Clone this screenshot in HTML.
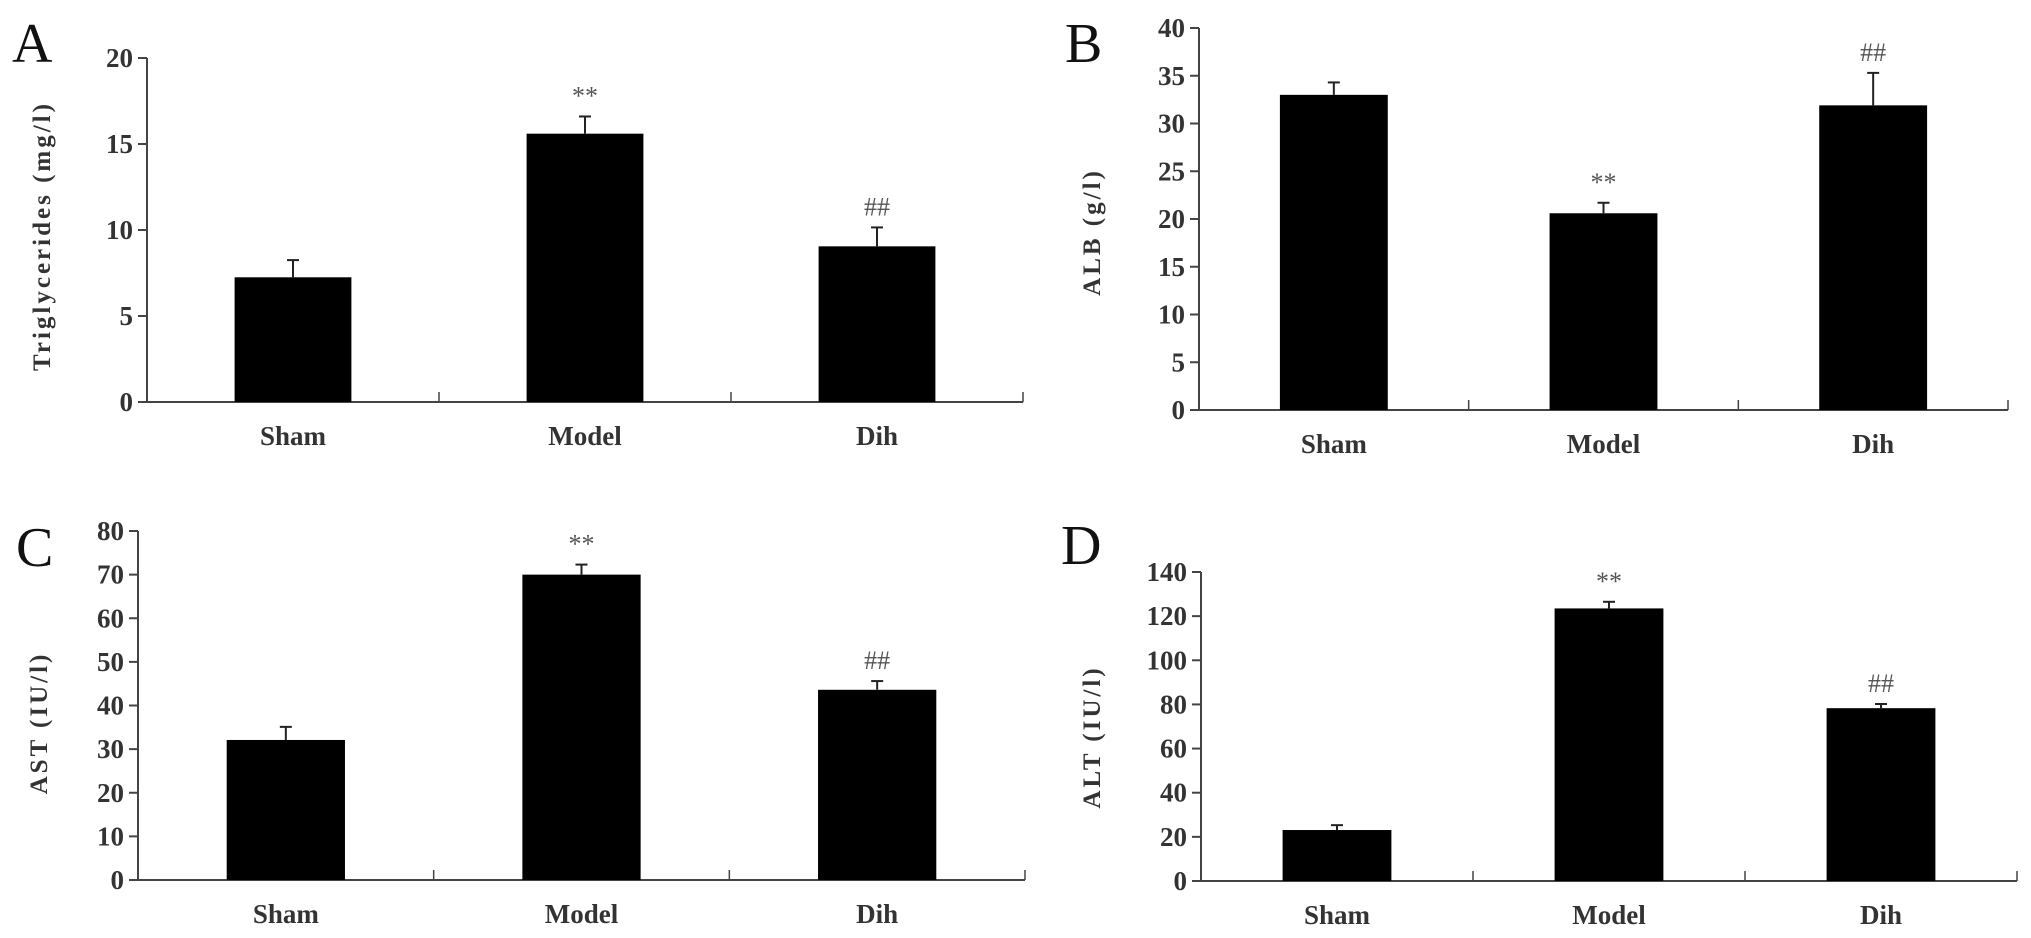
<!DOCTYPE html>
<html>
<head>
<meta charset="utf-8">
<style>
  html,body{margin:0;padding:0;background:#fff;}
  svg{display:block;}
  text{font-family:"Liberation Serif",serif;}
</style>
</head>
<body>
<svg id="fig" width="2031" height="938" viewBox="0 0 2031 938" xmlns="http://www.w3.org/2000/svg"></svg>
<script>
const categories = ["Sham", "Model", "Dih"];

const valuesA = [7.25, 15.6, 9.05];
const errorsA = [1.0, 1.0, 1.1];
const marksA = ["", "**", "##"];
const ticksA = [0, 5, 10, 15, 20];

const valuesB = [33.0, 20.6, 31.9];
const errorsB = [1.3, 1.1, 3.4];
const marksB = ["", "**", "##"];
const ticksB = [0, 5, 10, 15, 20, 25, 30, 35, 40];

const valuesC = [32.1, 70.0, 43.6];
const errorsC = [3.0, 2.3, 2.0];
const marksC = ["", "**", "##"];
const ticksC = [0, 10, 20, 30, 40, 50, 60, 70, 80];

const valuesD = [23.1, 123.5, 78.3];
const errorsD = [2.2, 3.0, 1.9];
const marksD = ["", "**", "##"];
const ticksD = [0, 20, 40, 60, 80, 100, 120, 140];

const NS = "http://www.w3.org/2000/svg";
const svg = document.getElementById("fig");

function mk(tag, attrs, parent) {
  const e = document.createElementNS(NS, tag);
  for (const k in attrs) e.setAttribute(k, attrs[k]);
  (parent || svg).appendChild(e);
  return e;
}

function panel(cfg) {
  const g = mk("g", {});
  
  
  const tmax = cfg.ticks[cfg.ticks.length - 1];
  const y = v => cfg.y0 - (v / tmax) * (cfg.y0 - cfg.yTop);
  const cw = (cfg.xEnd - cfg.x0) / categories.length;
  const x = i => cfg.x0 + cw * (i + 0.5);
  const bw = cw * 0.4;

  const L = mk("text", {x: cfg.lx, y: cfg.ly, "font-size": 56, fill: "#111"}, g);
  L.textContent = cfg.letter;
  
  

  const ya = mk("line", {x1: cfg.x0, y1: y(tmax), x2: cfg.x0, y2: cfg.y0 + 1, stroke: "#444", "stroke-width": 2}, g);
  
  
  cfg.ticks.forEach(t => {
    const tk = mk("line", {x1: cfg.x0 - 9, y1: y(t), x2: cfg.x0, y2: y(t), stroke: "#444", "stroke-width": 2}, g);
    
    
    const tl = mk("text", {x: cfg.x0 - 14, y: y(t) + 9, "font-size": 27, "font-weight": "bold", "text-anchor": "end", fill: "#333"}, g);
    tl.textContent = t;
    
    
  });
  const xa = mk("line", {x1: cfg.x0, y1: cfg.y0, x2: cfg.xEnd, y2: cfg.y0, stroke: "#444", "stroke-width": 2}, g);
  
  
  for (let i = 1; i <= categories.length; i++) {
    const xx = cfg.x0 + cw * i;
    const dv = mk("line", {x1: xx, y1: cfg.y0 - 10, x2: xx, y2: cfg.y0, stroke: "#444", "stroke-width": 1.5}, g);
    
    
  }
  const yt = mk("text", {x: 0, y: 0, "font-size": 25, "font-weight": "bold", "text-anchor": "middle", fill: "#333", "letter-spacing": 3,
    transform: `translate(${cfg.tx},${cfg.ty}) rotate(-90)`}, g);
  yt.textContent = cfg.title;
  
  

  categories.forEach((c, i) => {
    const v = cfg.values[i], e = cfg.errors[i];
    const b = mk("rect", {x: x(i) - bw / 2, y: y(v), width: bw, height: cfg.y0 - y(v), fill: "#000"}, g);
    
    
    const el = mk("line", {x1: x(i), y1: y(v), x2: x(i), y2: y(v + e), stroke: "#222", "stroke-width": 2}, g);
    
    
    const ec = mk("line", {x1: x(i) - 6, y1: y(v + e), x2: x(i) + 6, y2: y(v + e), stroke: "#222", "stroke-width": 2}, g);
    
    
    if (cfg.marks[i]) {
      const m = mk("text", {x: x(i), y: y(v + e) - 12, "font-size": 26, "text-anchor": "middle", fill: "#555"}, g);
      m.textContent = cfg.marks[i];
      
      
    }
    const cl = mk("text", {x: x(i), y: cfg.y0 + 43, "font-size": 27, "font-weight": "bold", "text-anchor": "middle", fill: "#333"}, g);
    cl.textContent = c;
    
    
  });
}

panel({letter: "A", lx: 12, ly: 62, x0: 147, xEnd: 1023, y0: 402, yTop: 58, ticks: ticksA, values: valuesA, errors: errorsA, marks: marksA,
  title: "Triglycerides (mg/l)", tx: 50, ty: 236});
panel({letter: "B", lx: 1065, ly: 62, x0: 1199, xEnd: 2008, y0: 410, yTop: 28, ticks: ticksB, values: valuesB, errors: errorsB, marks: marksB,
  title: "ALB (g/l)", tx: 1100, ty: 232});
panel({letter: "C", lx: 16, ly: 566, x0: 138, xEnd: 1025, y0: 880, yTop: 531, ticks: ticksC, values: valuesC, errors: errorsC, marks: marksC,
  title: "AST (IU/l)", tx: 47, ty: 723});
panel({letter: "D", lx: 1061, ly: 564, x0: 1201, xEnd: 2017, y0: 881, yTop: 572, ticks: ticksD, values: valuesD, errors: errorsD, marks: marksD,
  title: "ALT (IU/l)", tx: 1100, ty: 737});
</script>
</body>
</html>
